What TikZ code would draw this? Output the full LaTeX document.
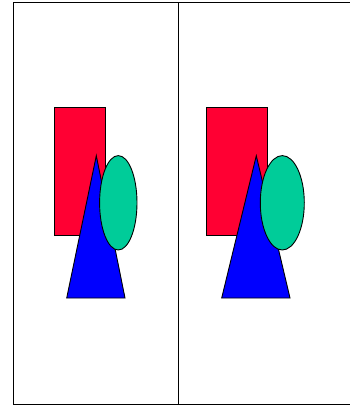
\documentclass[tikz,border=0pt]{standalone}
\definecolor{shred}{HTML}{FF0033}
\definecolor{shblue}{HTML}{0000FF}
\definecolor{shgreen}{HTML}{00CC99}
\begin{document}
\begin{tikzpicture}[x=1pt,y=-1pt,line width=0.9pt,
  figshape/.style={draw=black,line join=miter}]
\useasboundingbox (0,0) rectangle (350,405);
\clip (0,0) rectangle (350,405);
% frame
\draw[line width=1pt] (13.5,2.5) rectangle (360,404);
\draw[line width=1pt] (178,2.5) -- (178,404);
% left panel
\filldraw[figshape,fill=shred] (54,107.5) rectangle (105.3,235.5);
\filldraw[figshape,fill=shblue] (96.3,155.7) -- (125,298) -- (66.7,298) -- cycle;
\filldraw[figshape,fill=shgreen] (118.3,202.8) ellipse [x radius=18.7,y radius=47.2];
% right panel
\filldraw[figshape,fill=shred] (206.3,107.5) rectangle (267.3,235.5);
\filldraw[figshape,fill=shblue] (256.3,155.7) -- (290,298) -- (221.7,298) -- cycle;
\filldraw[figshape,fill=shgreen] (282.3,202.8) ellipse [x radius=22,y radius=47.2];
\end{tikzpicture}
\end{document}
